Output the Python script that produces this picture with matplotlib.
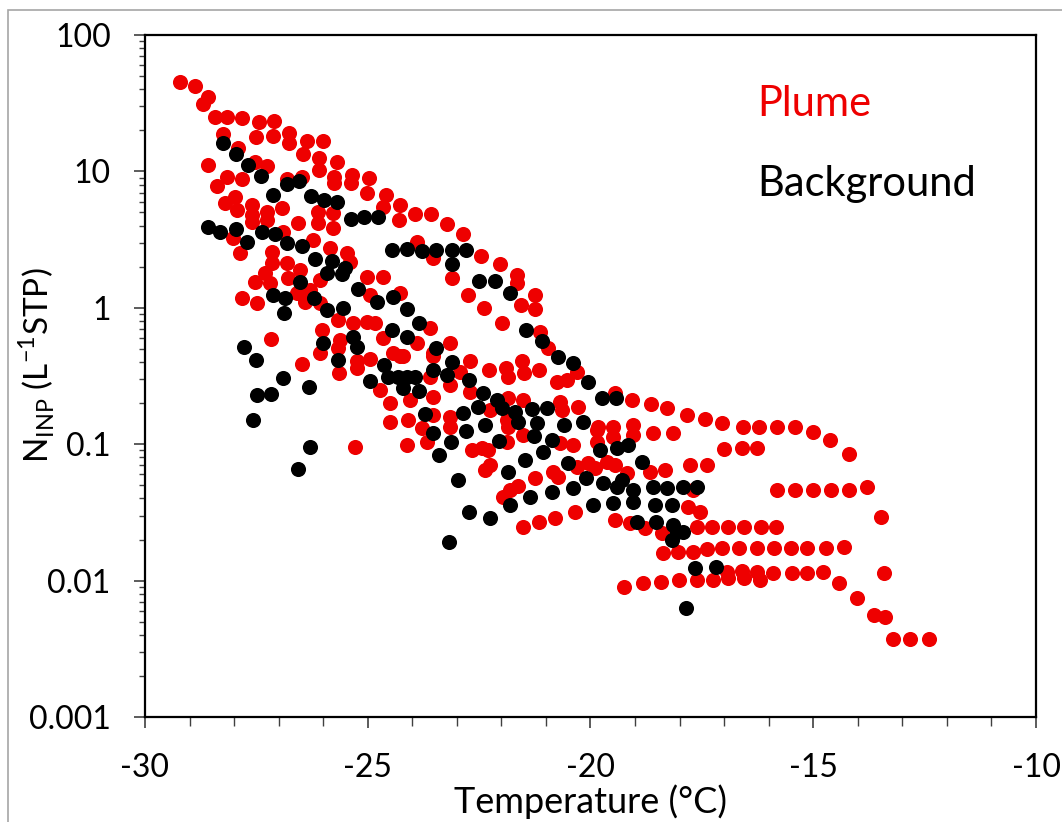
import matplotlib.pyplot as plt
from matplotlib.patches import Rectangle
from matplotlib.ticker import FixedLocator, LogLocator, NullFormatter, MultipleLocator

plt.rcParams['font.family'] = ['Lato', 'DejaVu Sans']
plt.rcParams['axes.unicode_minus'] = False

# Plume samples (temperature in C, INP concentration per L STP)
plume_temp = [-29.21, -28.88, -28.59, -28.70, -28.43, -28.16, -27.82, -27.44, -27.10, -28.25,
              -27.51, -27.13, -26.77, -26.77, -26.36, -26.00, -26.45, -26.09, -26.09, -25.69,
              -25.76, -25.76, -25.35, -25.38, -24.97, -25.02, -24.59, -24.66, -24.28, -24.30,
              -23.94, -23.58, -27.91, -28.59, -27.53, -27.26, -28.16, -27.82, -28.38, -26.81,
              -26.48, -27.98, -28.20, -27.93, -27.60, -27.60, -27.26, -27.26, -26.92, -27.60,
              -26.57, -26.12, -26.12, -25.78, -25.78, -28.02, -27.87, -27.15, -27.15, -26.90,
              -26.23, -25.85, -25.47, -25.40, -26.81, -26.52, -27.31, -27.53, -26.79, -26.07,
              -25.02, -24.66, -23.89, -23.54, -27.82, -27.49, -26.59, -26.30, -24.95, -24.28,
              -26.41, -27.17, -26.48, -25.29, -27.19, -26.07, -26.03, -26.07, -25.67, -25.62,
              -25.67, -25.65, -25.33, -25.02, -24.84, -25.24, -25.24, -24.95, -24.66, -24.43,
              -24.28, -23.89, -23.60, -24.72, -24.50, -24.50, -24.05, -24.10, -23.78, -23.67,
              -24.12, -23.54, -23.54, -23.54, -23.60, -23.22, -22.86, -22.46, -22.03, -21.65,
              -21.65, -23.11, -22.75, -22.39, -21.99, -21.56, -21.25, -21.25, -21.13, -20.95,
              -20.30, -19.45, -19.07, -18.64, -18.28, -17.83, -23.15, -23.54, -22.70, -22.93,
              -22.28, -21.90, -21.85, -21.54, -21.49, -21.16, -20.75, -20.53, -23.15, -22.70,
              -21.85, -21.52, -20.68, -20.64, -20.28, -23.15, -22.26, -21.87, -19.83, -19.49,
              -19.05, -24.21, -23.15, -22.66, -22.44, -22.30, -22.37, -22.26, -21.85, -21.87,
              -21.52, -21.81, -21.63, -21.96, -21.25, -20.84, -20.73, -20.68, -20.39, -20.30,
              -20.06, -19.90, -19.85, -19.49, -19.85, -18.60, -18.15, -19.05, -19.63, -19.45,
              -19.18, -18.33, -17.77, -17.70, -20.35, -21.52, -21.16, -20.80, -19.45, -19.11,
              -18.78, -18.39, -18.37, -18.04, -17.70, -17.43, -17.05, -16.58, -16.22, -15.81,
              -15.41, -15.01, -14.62, -14.20, -17.00, -16.60, -16.26, -17.38, -15.81, -15.41,
              -15.01, -14.60, -14.20, -13.79, -13.48, -17.54, -17.81, -17.61, -17.27, -16.91,
              -16.55, -16.17, -15.84, -17.38, -17.05, -16.67, -16.26, -15.88, -15.50, -15.14,
              -14.71, -14.31, -19.25, -18.82, -18.42, -18.01, -17.61, -17.25, -16.91, -16.55,
              -16.20, -16.94, -16.60, -16.26, -15.90, -15.48, -15.14, -14.78, -14.42, -14.02,
              -13.64, -13.39, -13.41, -13.21, -12.83, -12.40, -18.66]
plume_ninp = [45, 42, 35, 31, 25, 25, 24.6, 23, 23.4, 18.8,
              17.9, 18.2, 19.1, 16.2, 16.7, 16.7, 13.4, 12.5, 10.2, 11.7,
              9.1, 8.2, 9.4, 8.2, 8.95, 6.94, 6.71, 5.48, 5.67, 4.4,
              4.87, 4.87, 14.8, 11.1, 11.7, 11.0, 9.1, 8.8, 7.8, 8.8,
              9.1, 6.5, 5.87, 5.21, 5.67, 4.79, 5.04, 4.4, 5.39, 4.26,
              4.18, 5.04, 4.18, 4.95, 3.85, 3.25, 2.52, 2.57, 2.13, 3.6,
              3.14, 2.74, 2.52, 2.17, 2.13, 1.89, 1.8, 1.55, 1.65, 1.6,
              1.68, 1.68, 3.04, 2.32, 1.18, 1.08, 1.28, 1.35, 1.24, 1.28,
              1.1, 0.59, 0.39, 0.095, 1.52, 1.08, 0.69, 0.47, 0.81, 0.58,
              0.51, 0.33, 0.77, 0.79, 0.77, 0.41, 0.36, 0.42, 0.6, 0.47,
              0.44, 0.55, 0.71, 0.25, 0.2, 0.145, 0.21, 0.15, 0.132, 0.104,
              0.099, 0.22, 0.164, 0.44, 0.31, 4.1, 3.48, 2.4, 2.09, 1.74,
              1.52, 1.65, 1.24, 1.0, 0.77, 1.05, 1.24, 0.98, 0.665, 0.51,
              0.34, 0.237, 0.211, 0.197, 0.184, 0.164, 0.55, 0.47, 0.41, 0.34,
              0.35, 0.36, 0.31, 0.41, 0.33, 0.35, 0.286, 0.296, 0.272, 0.241,
              0.218, 0.211, 0.204, 0.178, 0.187, 0.158, 0.178, 0.15, 0.134, 0.134,
              0.138, 0.44, 0.134, 0.091, 0.094, 0.091, 0.065, 0.07, 0.134, 0.104,
              0.117, 0.046, 0.049, 0.041, 0.0565, 0.0626, 0.0575, 0.102, 0.099, 0.068,
              0.073, 0.067, 0.127, 0.113, 0.104, 0.121, 0.121, 0.117, 0.074, 0.07,
              0.0615, 0.065, 0.07, 0.046, 0.032, 0.0247, 0.0269, 0.0288, 0.0278, 0.0264,
              0.0243, 0.0223, 0.0159, 0.0162, 0.0162, 0.153, 0.143, 0.134, 0.134, 0.134,
              0.134, 0.123, 0.107, 0.085, 0.092, 0.094, 0.094, 0.07, 0.046, 0.046,
              0.046, 0.046, 0.046, 0.0486, 0.0293, 0.032, 0.0346, 0.0247, 0.0247, 0.0247,
              0.0247, 0.0247, 0.0247, 0.017, 0.0173, 0.0173, 0.0173, 0.0173, 0.0173, 0.0173,
              0.0173, 0.0176, 0.009, 0.0096, 0.0098, 0.0101, 0.0101, 0.0101, 0.0104, 0.0104,
              0.0101, 0.0116, 0.0118, 0.0116, 0.0114, 0.0114, 0.0114, 0.0116, 0.0096, 0.0075,
              0.0056, 0.0054, 0.0114, 0.0037, 0.0037, 0.0037, 0.063]

# Background samples
bg_temp = [-28.25, -27.96, -27.69, -27.40, -26.81, -26.54, -27.13, -26.27, -25.98, -25.69,
           -25.38, -25.08, -24.77, -28.59, -28.32, -27.96, -27.71, -27.37, -27.08, -26.81,
           -26.48, -26.18, -25.80, -25.91, -25.51, -25.58, -24.46, -24.12, -23.78, -23.47,
           -26.52, -25.22, -27.13, -26.86, -26.21, -24.79, -24.43, -27.78, -27.51, -26.90,
           -26.32, -27.49, -27.17, -27.58, -26.30, -26.57, -26.88, -25.91, -25.56, -24.12,
           -23.85, -24.46, -24.12, -26.00, -25.33, -25.24, -25.67, -24.64, -24.55, -24.32,
           -24.12, -23.94, -24.95, -24.21, -23.85, -23.54, -23.47, -23.71, -23.54, -23.40,
           -23.11, -22.79, -23.11, -22.50, -22.14, -21.81, -21.45, -21.09, -20.73, -20.39,
           -20.06, -19.74, -19.43, -23.11, -23.22, -22.73, -22.41, -22.10, -21.99, -22.53,
           -22.86, -21.69, -21.31, -20.98, -21.20, -20.59, -20.17, -21.63, -22.37, -23.13,
           -22.79, -22.05, -21.27, -20.86, -21.07, -21.47, -21.85, -20.51, -19.79, -19.41,
           -19.16, -18.84, -22.97, -20.10, -20.39, -20.86, -21.36, -21.81, -19.72, -19.41,
           -19.29, -19.05, -18.60, -18.28, -17.92, -17.61, -19.94, -19.49, -19.05, -18.55,
           -18.17, -22.73, -22.26, -23.18, -18.96, -18.53, -18.15, -18.06, -17.92, -18.17,
           -17.65, -17.18, -17.86]
bg_ninp = [16.2, 13.4, 11.1, 9.25, 8.08, 8.5, 6.71, 6.6, 6.17, 5.97,
           4.48, 4.63, 4.63, 3.91, 3.6, 3.78, 3.04, 3.6, 3.48, 2.99,
           2.84, 2.28, 2.2, 1.8, 1.96, 1.77, 2.65, 2.7, 2.61, 2.65,
           1.55, 1.37, 1.24, 1.18, 1.18, 1.1, 1.2, 0.516, 0.414, 0.306,
           0.263, 0.229, 0.233, 0.15, 0.095, 0.066, 0.916, 0.964, 0.997, 0.98,
           0.774, 0.688, 0.611, 0.552, 0.611, 0.516, 0.414, 0.381, 0.311, 0.311,
           0.311, 0.311, 0.291, 0.258, 0.245, 0.35, 0.507, 0.166, 0.121, 0.083,
           2.65, 2.65, 2.09, 1.57, 1.57, 1.28, 0.688, 0.571, 0.436, 0.394,
           0.286, 0.218, 0.218, 0.4, 0.322, 0.296, 0.237, 0.211, 0.184, 0.187,
           0.169, 0.172, 0.181, 0.184, 0.143, 0.138, 0.145, 0.145, 0.138, 0.104,
           0.125, 0.106, 0.115, 0.107, 0.088, 0.0766, 0.0626, 0.073, 0.091, 0.094,
           0.099, 0.074, 0.0546, 0.0565, 0.0477, 0.0446, 0.041, 0.0358, 0.0519, 0.0486,
           0.0546, 0.0461, 0.0486, 0.0477, 0.0486, 0.0486, 0.0358, 0.0371, 0.0377, 0.0358,
           0.0358, 0.0318, 0.0288, 0.0192, 0.0269, 0.0269, 0.0256, 0.0227, 0.0227, 0.0198,
           0.0124, 0.0126, 0.0063]

x_ticks = [-30, -25, -20, -15, -10]
y_ticks = [0.001, 0.01, 0.1, 1, 10, 100]
y_tick_labels = ["0.001", "0.01", "0.1", "1", "10", "100"]

fig = plt.figure(figsize=(10.62, 8.22), dpi=100)
# thin grey frame of the original picture (left and top edges only show)
fig.patches.append(Rectangle((8 / 1062, -0.1), 1.2, 1.1 - 10 / 822,
                             transform=fig.transFigure, fill=False,
                             edgecolor="#a6a6a6", linewidth=1.2))
ax = fig.add_axes([145 / 1062, 1 - 717 / 822, 891 / 1062, 682 / 822])

ax.scatter(plume_temp, plume_ninp, s=118, color="#ee0000", linewidths=0, zorder=2)
ax.scatter(bg_temp, bg_ninp, s=118, color="black", linewidths=0, zorder=3)

ax.set_yscale("log")
ax.set_xlim(-30, -10)
ax.set_ylim(0.001, 100)

ax.xaxis.set_major_locator(FixedLocator(x_ticks))
ax.xaxis.set_minor_locator(MultipleLocator(1))
ax.set_xticklabels([str(t) for t in x_ticks])
ax.yaxis.set_major_locator(FixedLocator(y_ticks))
ax.set_yticklabels(y_tick_labels)
ax.yaxis.set_minor_locator(LogLocator(base=10, subs=range(2, 10)))
ax.yaxis.set_minor_formatter(NullFormatter())

ax.tick_params(axis="both", which="major", direction="out", length=7.7, width=1.2,
               labelsize=23, pad=17, color="#404040")
ax.tick_params(axis="both", which="minor", direction="out", length=4.5, width=1.0,
               color="#404040")
ax.tick_params(axis="x", which="minor", length=6.5)
ax.tick_params(axis="x", which="major", pad=18)

for side in ["left", "right", "top", "bottom"]:
    ax.spines[side].set_linewidth(1.6)
    ax.spines[side].set_color("black")

ax.set_xlabel("Temperature (\u00b0C)", fontsize=26, labelpad=1)
ax.set_ylabel(r"N$_\mathregular{INP}$ (L$^\mathregular{-1}$STP)", fontsize=24)
ax.yaxis.set_label_coords(-0.099, 0.516)

ax.text(0.687, 0.881, "Plume", color="#ee0000", fontsize=30,
        transform=ax.transAxes, va="baseline", ha="left")
ax.text(0.687, 0.764, "Background", color="black", fontsize=30,
        transform=ax.transAxes, va="baseline", ha="left")

plt.savefig("out.png", dpi=100)
